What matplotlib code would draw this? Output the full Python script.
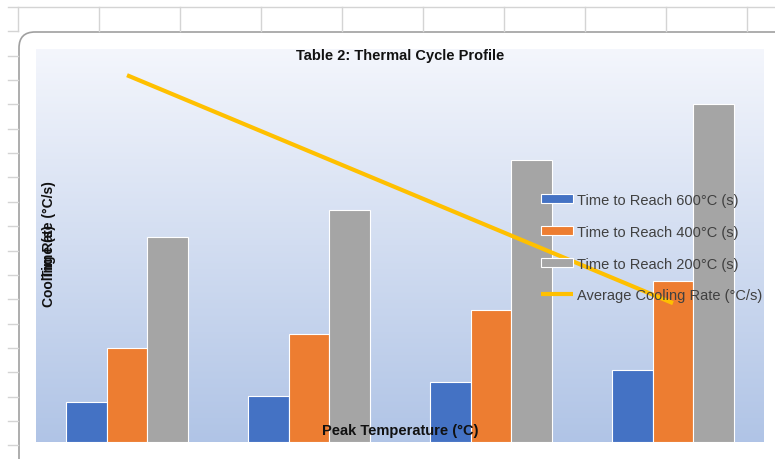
import numpy as np
import matplotlib
matplotlib.use('Agg')
import matplotlib.pyplot as plt
from matplotlib.patches import FancyBboxPatch
from matplotlib.colors import LinearSegmentedColormap

# chart data
categories = ['1', '2', '3', '4']
time_600 = [3.6, 4.1, 5.3, 6.4]
time_400 = [8.4, 9.6, 11.8, 14.3]
time_200 = [18.3, 20.7, 25.1, 30.1]
cooling_rate = [56.0, 44.4, 32.8, 21.2]

labels = ['Time to Reach 600°C (s)', 'Time to Reach 400°C (s)',
          'Time to Reach 200°C (s)', 'Average Cooling Rate (°C/s)']
colors = ['#4472c4', '#ed7d31', '#a5a5a5', '#ffc000']

W, H = 775, 460
fig = plt.figure(figsize=(W / 100, H / 100), dpi=100)
font = 'Liberation Sans'

# spreadsheet background + chart area, drawn in pixel coordinates
bg = fig.add_axes([0, 0, 1, 1], zorder=0)
bg.set_xlim(0, W)
bg.set_ylim(H, 0)
bg.axis('off')
grid_c = '#d4d4d4'
col_x = [18 + 81 * k for k in range(10)]
for x in col_x:
    bg.plot([x, x], [8, 32], color=grid_c, lw=1)
bg.plot([8, W], [8, 8], color=grid_c, lw=1)
for k in range(1, 20):
    y = 8 + 24.35 * k
    bg.plot([8, 18], [y, y], color=grid_c, lw=1)
chart = FancyBboxPatch((19, 33), 800, 460, boxstyle='round,pad=0,rounding_size=16',
                       fc='white', ec='#a0a0a0', lw=1.2)
bg.add_patch(chart)

# plot area
ax = fig.add_axes([36 / W, 1 - 443 / H, 728 / W, 393 / H], zorder=1)
grad = LinearSegmentedColormap.from_list('g', ['#f4f6fc', '#b0c4e6'])
ax.imshow(np.linspace(0, 1, 256).reshape(-1, 1), cmap=grad, aspect='auto',
          extent=[0, 1, 0, 1], transform=ax.transAxes, zorder=0)

x = np.arange(len(categories))
bw = 0.2225
bars = []
for i, vals in enumerate([time_600, time_400, time_200]):
    b = ax.bar(x + (i - 1) * bw, vals, bw, color=colors[i], edgecolor='white',
               lw=0.8, zorder=2, label=labels[i])
    bars.append(b)
ax.set_xlim(-0.5, 3.5)
ax.set_ylim(0, 35)
ax.axis('off')

ax2 = ax.twinx()
ax2.set_ylim(0, 60)
ln, = ax2.plot(x, cooling_rate, color=colors[3], lw=3, solid_capstyle='butt',
               label=labels[3])
ax2.axis('off')

fig.legend(handles=bars + [ln], labels=labels, loc='upper left',
           bbox_to_anchor=(541 / W, 1 - 194 / H), frameon=False,
           prop={'family': font, 'size': 10.5}, labelcolor='#404040',
           handlelength=2.2, handleheight=0.6, handletextpad=0.3,
           labelspacing=1.22, borderpad=0, borderaxespad=0)

fig.text(400 / W, 1 - 56 / H, 'Table 2: Thermal Cycle Profile', ha='center',
         va='center', fontsize=10.5, fontweight='bold', family=font, color='#111111')
fig.text(400 / W, 1 - 431 / H, 'Peak Temperature (°C)', ha='center',
         va='center', fontsize=10.5, fontweight='bold', family=font, color='#111111')
fig.text(49 / W, 1 - 244 / H, 'Cooling Rate (°C/s)', rotation=90, ha='center',
         va='center', fontsize=10, fontweight='bold', family=font, color='#111111')
fig.text(49 / W, 1 - 252 / H, 'Time (s)', rotation=90, ha='center',
         va='center', fontsize=10, fontweight='bold', family=font, color='#111111')

fig.savefig('out.png', dpi=100)
